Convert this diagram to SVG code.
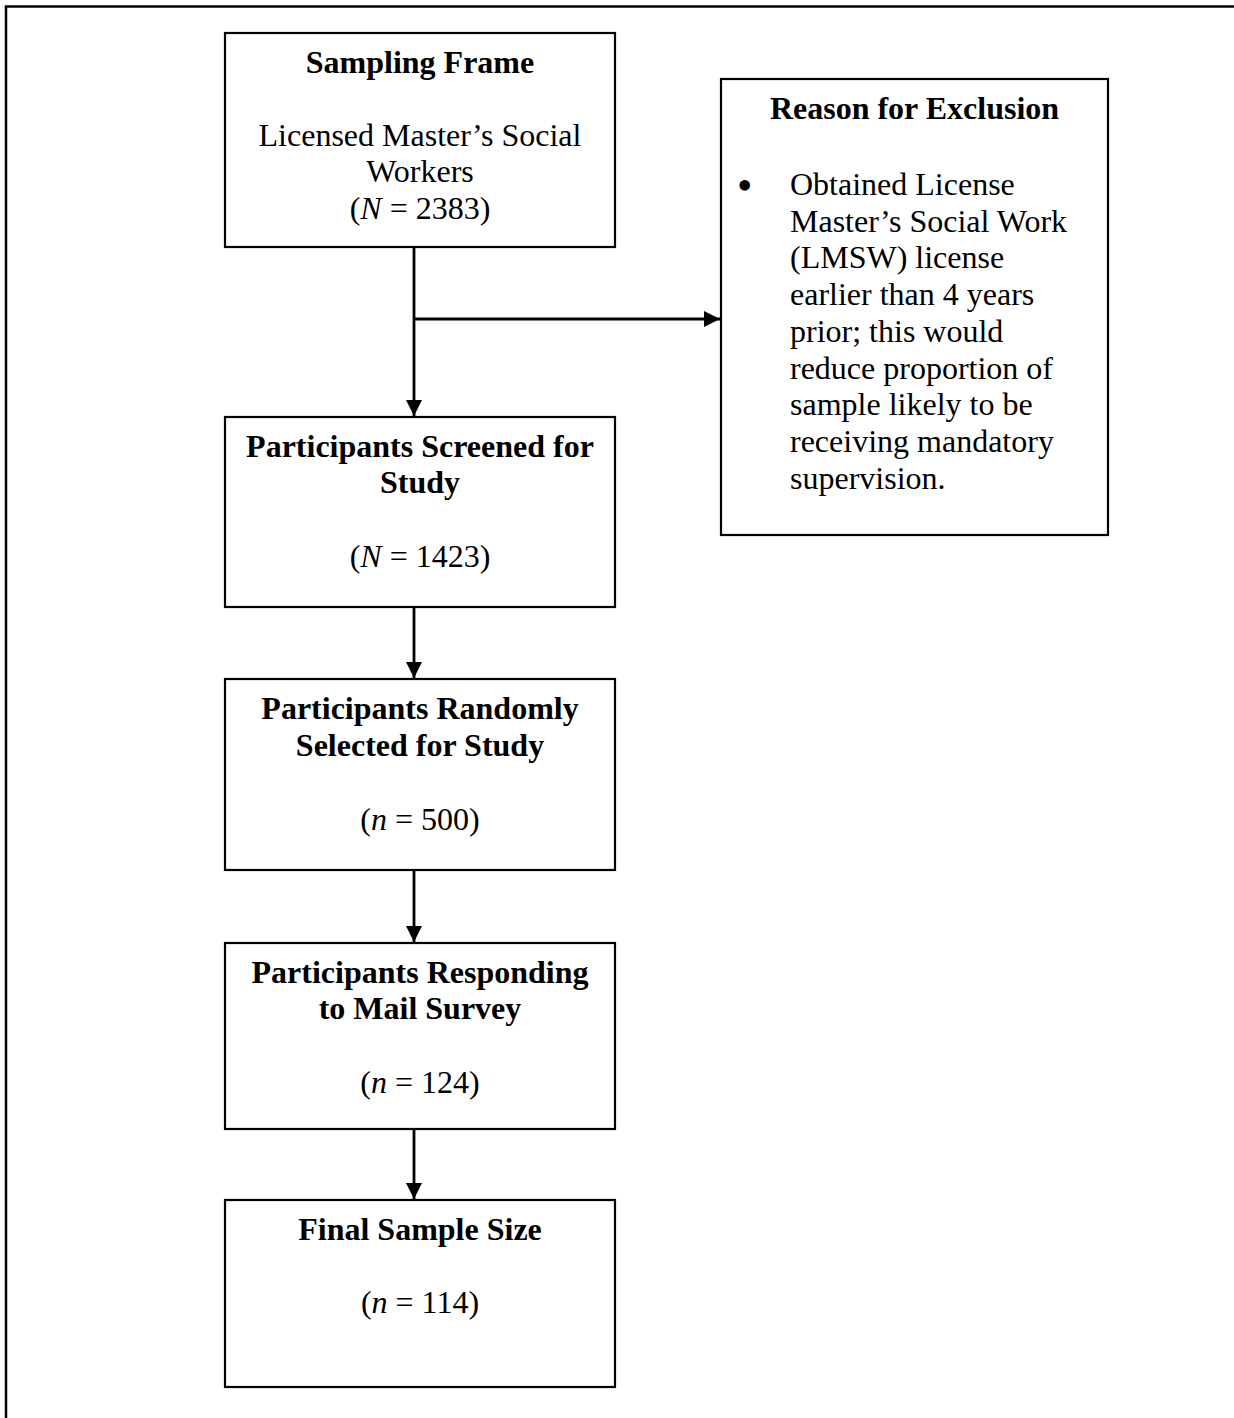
<svg xmlns="http://www.w3.org/2000/svg" width="1234" height="1418" viewBox="0 0 1234 1418">
  <style>
    text { font-family: "Liberation Serif", "Times New Roman", serif; font-size: 32px; fill: #000; }
    .b { font-weight: bold; }
    .c { text-anchor: middle; }
    .bullet { font-size: 44px; }
    .box { fill: #fff; stroke: #000; stroke-width: 2.2; }
    .conn { fill: none; stroke: #000; stroke-width: 2.8; }
  </style>
  <defs>
    <marker id="arrow" markerUnits="userSpaceOnUse" markerWidth="17" markerHeight="16" refX="16" refY="8" orient="auto">
      <path d="M0,0 L16,8 L0,16 z" fill="#000"/>
    </marker>
  </defs>
  <rect width="1234" height="1418" fill="#fff"/>
  <path d="M6,1418 V6.5 H1234" fill="none" stroke="#000" stroke-width="2.5"/>

  <g id="connectors">
    <path class="conn" d="M414,247 V416" marker-end="url(#arrow)"/>
    <path class="conn" d="M414,319 H720" marker-end="url(#arrow)"/>
    <path class="conn" d="M414,607 V678" marker-end="url(#arrow)"/>
    <path class="conn" d="M414,870 V942" marker-end="url(#arrow)"/>
    <path class="conn" d="M414,1129 V1199" marker-end="url(#arrow)"/>
  </g>

  <g id="sampling-frame">
    <rect class="box" x="225" y="33" width="390" height="214"/>
    <text class="c b" x="420" y="73">Sampling Frame</text>
    <text class="c" x="420" y="146">Licensed Master’s Social</text>
    <text class="c" x="420" y="182">Workers</text>
    <text class="c" x="420" y="219">(<tspan font-style="italic">N</tspan> = 2383)</text>
  </g>

  <g id="reason-for-exclusion">
    <rect class="box" x="721" y="79" width="387" height="456"/>
    <text class="c b" x="914.5" y="119">Reason for Exclusion</text>
    <text class="bullet" x="737" y="200">•</text>
    <text x="790" y="195">Obtained License</text>
    <text x="790" y="232">Master’s Social Work</text>
    <text x="790" y="268">(LMSW) license</text>
    <text x="790" y="305">earlier than 4 years</text>
    <text x="790" y="342">prior; this would</text>
    <text x="790" y="379">reduce proportion of</text>
    <text x="790" y="415">sample likely to be</text>
    <text x="790" y="452">receiving mandatory</text>
    <text x="790" y="489">supervision.</text>
  </g>

  <g id="screened">
    <rect class="box" x="225" y="417" width="390" height="190"/>
    <text class="c b" x="420" y="457">Participants Screened for</text>
    <text class="c b" x="420" y="493">Study</text>
    <text class="c" x="420" y="567">(<tspan font-style="italic">N</tspan> = 1423)</text>
  </g>

  <g id="randomly-selected">
    <rect class="box" x="225" y="679" width="390" height="191"/>
    <text class="c b" x="420" y="719">Participants Randomly</text>
    <text class="c b" x="420" y="756">Selected for Study</text>
    <text class="c" x="420" y="830">(<tspan font-style="italic">n</tspan> = 500)</text>
  </g>

  <g id="responding">
    <rect class="box" x="225" y="943" width="390" height="186"/>
    <text class="c b" x="420" y="983">Participants Responding</text>
    <text class="c b" x="420" y="1019">to Mail Survey</text>
    <text class="c" x="420" y="1093">(<tspan font-style="italic">n</tspan> = 124)</text>
  </g>

  <g id="final-sample">
    <rect class="box" x="225" y="1200" width="390" height="187"/>
    <text class="c b" x="420" y="1240">Final Sample Size</text>
    <text class="c" x="420" y="1313">(<tspan font-style="italic">n</tspan> = 114)</text>
  </g>
</svg>
